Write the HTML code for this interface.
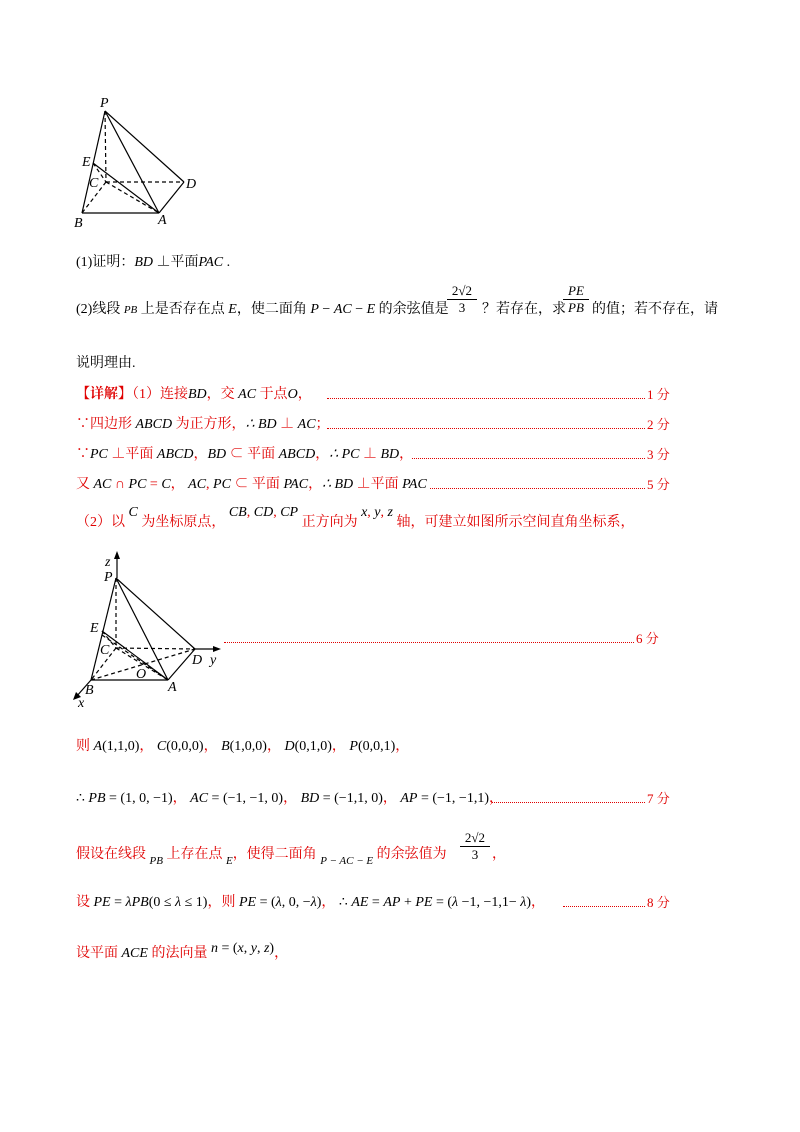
<!DOCTYPE html>
<html><head><meta charset="utf-8">
<style>
body{margin:0;background:#fff;width:800px;height:1132px;position:relative;overflow:hidden;font-family:"Liberation Serif","Noto Serif CJK SC","Noto Sans CJK SC",serif;font-size:14px;color:#000}
.l{position:absolute;left:76px;white-space:nowrap;line-height:18px}
.r{color:#e00000}
i{font-family:"Liberation Serif",serif;font-style:italic;color:#000}
.m{color:#000;font-family:"Liberation Serif",serif}
.dots{position:absolute;height:0;border-bottom:1.5px dotted #e00000}
.fen{position:absolute;color:#e00000;line-height:18px;font-size:13px}
svg{position:absolute;left:0;top:0}
.lab{font-family:"Liberation Serif",serif;font-style:italic;font-size:14px}
</style></head><body>
<svg width="800" height="1132">
<g stroke="#000" stroke-width="1.2" fill="none">
<line x1="105" y1="111" x2="82" y2="213"/>
<line x1="105" y1="111" x2="159" y2="213"/>
<line x1="105" y1="111" x2="184" y2="182"/>
<line x1="82" y1="213" x2="159" y2="213"/>
<line x1="159" y1="213" x2="184" y2="182"/>
<line x1="93" y1="163" x2="159" y2="213"/>
<g stroke-dasharray="4,3">
<line x1="105" y1="111" x2="106" y2="182"/>
<line x1="106" y1="182" x2="184" y2="182"/>
<line x1="106" y1="182" x2="82" y2="213"/>
<line x1="106" y1="182" x2="159" y2="213"/>
<line x1="93" y1="163" x2="106" y2="182"/>
</g>
<line x1="116" y1="578" x2="91" y2="680"/>
<line x1="116" y1="578" x2="168" y2="680"/>
<line x1="116" y1="578" x2="195" y2="649"/>
<line x1="91" y1="680" x2="168" y2="680"/>
<line x1="168" y1="680" x2="195" y2="649"/>
<line x1="102" y1="631" x2="168" y2="680"/>
<line x1="117" y1="578" x2="117" y2="556"/>
<line x1="195" y1="649" x2="216" y2="649"/>
<line x1="91" y1="680" x2="76" y2="697"/>
<g stroke-dasharray="4,3">
<line x1="116" y1="578" x2="116" y2="648"/>
<line x1="116" y1="648" x2="195" y2="649"/>
<line x1="116" y1="648" x2="91" y2="680"/>
<line x1="116" y1="648" x2="168" y2="680"/>
<line x1="91" y1="680" x2="195" y2="649"/>
<line x1="102" y1="631" x2="116" y2="648"/>
<line x1="102" y1="635" x2="168" y2="680"/>
</g>
</g>
<polygon points="117,551 114,559 120,559" fill="#000"/>
<polygon points="221,649 213,646 213,652" fill="#000"/>
<polygon points="73,700 76,692 81,697" fill="#000"/>
<g class="lab">
<text x="100" y="107">P</text><text x="82" y="166">E</text><text x="89" y="187">C</text>
<text x="186" y="188">D</text><text x="74" y="227">B</text><text x="158" y="224">A</text>
<text x="105" y="566">z</text><text x="104" y="581">P</text><text x="90" y="632">E</text><text x="100" y="654">C</text>
<text x="192" y="664">D</text><text x="210" y="664">y</text><text x="136" y="678">O</text>
<text x="85" y="694">B</text><text x="168" y="691">A</text><text x="78" y="707">x</text>
</g>
</svg>

<div class="l" style="top:254px">(1)证明：<i>BD</i> ⊥平面<i>PAC</i> .</div>
<div class="l" style="top:301px">(2)线段 <i style="font-size:11px">PB</i> 上是否存在点 <i>E</i>，使二面角 <i>P</i> − <i>AC</i> − <i>E</i> 的余弦值是</div>
<div style="position:absolute;left:447px;top:283px;font-size:13px;text-align:center;width:30px;line-height:16px">2√2<div style="border-top:1px solid #000">3</div></div>
<div class="l" style="left:482px;top:301px">？若存在，求</div>
<div style="position:absolute;left:563px;top:283px;font-size:13px;text-align:center;width:26px;line-height:16px"><i>PE</i><div style="border-top:1px solid #000"><i>PB</i></div></div>
<div class="l" style="left:592px;top:301px">的值；若不存在，请</div>
<div class="l" style="top:355px">说明理由.</div>

<div class="l r" style="top:386px"><b>【详解】</b>（1）连接<i>BD</i>，交 <i>AC</i> 于点<i>O</i>，</div>
<div class="dots" style="left:327px;width:318px;top:398px"></div><div class="fen" style="left:647px;top:386px">1 分</div>
<div class="l r" style="top:416px">∵四边形 <i>ABCD</i> 为正方形，<i>∴ BD</i> ⊥ <i>AC</i>；</div>
<div class="dots" style="left:327px;width:318px;top:428px"></div><div class="fen" style="left:647px;top:416px">2 分</div>
<div class="l r" style="top:446px">∵<i>PC</i> ⊥平面 <i>ABCD</i>，<i>BD</i> ⊂ 平面 <i>ABCD</i>，<i>∴ PC</i> ⊥ <i>BD</i>，</div>
<div class="dots" style="left:412px;width:233px;top:458px"></div><div class="fen" style="left:647px;top:446px">3 分</div>
<div class="l r" style="top:476px">又 <i>AC</i> ∩ <i>PC</i> = <i>C</i>， <i>AC</i>, <i>PC</i> ⊂ 平面 <i>PAC</i>，<i>∴ BD</i> ⊥平面 <i>PAC</i></div>
<div class="dots" style="left:430px;width:215px;top:488px"></div><div class="fen" style="left:647px;top:476px">5 分</div>
<div class="l r" style="top:514px">（2）以 <span style="position:relative;top:-10px"><i>C</i></span> 为坐标原点， <span style="position:relative;top:-10px"><i>CB</i>, <i>CD</i>, <i>CP</i></span> 正方向为 <span style="position:relative;top:-10px"><i>x</i>, <i>y</i>, <i>z</i></span> 轴，可建立如图所示空间直角坐标系，</div>

<div class="dots" style="left:224px;width:410px;top:642px"></div><div class="fen" style="left:636px;top:630px">6 分</div>

<div class="l r" style="top:738px">则 <i>A</i><span class="m">(1,1,0)</span>， <i>C</i><span class="m">(0,0,0)</span>， <i>B</i><span class="m">(1,0,0)</span>， <i>D</i><span class="m">(0,1,0)</span>， <i>P</i><span class="m">(0,0,1)</span>，</div>
<div class="l r" style="top:790px"><span class="m">∴</span> <i>PB</i> <span class="m">= (1, 0, −1)</span>， <i>AC</i> <span class="m">= (−1, −1, 0)</span>， <i>BD</i> <span class="m">= (−1,1, 0)</span>， <i>AP</i> <span class="m">= (−1, −1,1)</span>，</div>
<div class="dots" style="left:492px;width:153px;top:802px"></div><div class="fen" style="left:647px;top:790px">7 分</div>

<div class="l r" style="top:846px">假设在线段 <i style="font-size:11px;position:relative;top:6px">PB</i> 上存在点 <i style="font-size:11px;position:relative;top:6px">E</i>，使得二面角 <i style="font-size:11px;position:relative;top:6px">P − AC − E</i> 的余弦值为</div>
<div style="position:absolute;left:460px;top:830px;font-size:13px;text-align:center;width:30px;line-height:16px;color:#000">2√2<div style="border-top:1px solid #000">3</div></div>
<div class="l r" style="left:492px;top:846px">，</div>
<div class="l r" style="top:894px">设 <i>PE</i> <span class="m">=</span> <i>λPB</i><span class="m">(0 ≤ <i>λ</i> ≤ 1)</span>，则 <i>PE</i> <span class="m">= (<i>λ</i>, 0, −<i>λ</i>)</span>， <span class="m">∴</span> <i>AE</i> <span class="m">=</span> <i>AP</i> <span class="m">+</span> <i>PE</i> <span class="m">= (<i>λ</i> −1, −1,1− <i>λ</i>)</span>，</div>
<div class="dots" style="left:563px;width:82px;top:906px"></div><div class="fen" style="left:647px;top:894px">8 分</div>
<div class="l r" style="top:945px">设平面 <i>ACE</i> 的法向量 <span class="m" style="position:relative;top:-5px"><i>n</i> = (<i>x</i>, <i>y</i>, <i>z</i>)</span>，</div>
</body></html>
